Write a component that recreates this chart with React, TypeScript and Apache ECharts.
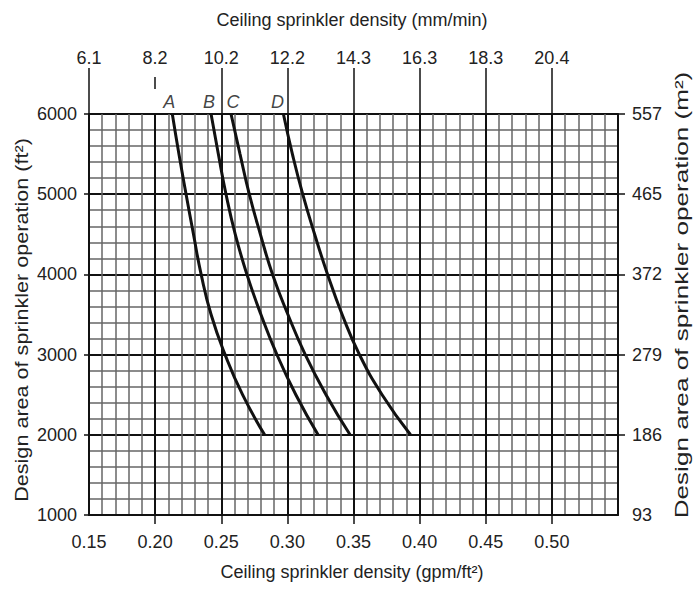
import React, { useEffect, useRef } from 'react';
import * as echarts from 'echarts';

// Design area (ft²) sampled along each curve, top to bottom
const areaSteps = [6000, 5500, 5000, 4500, 4000, 3500, 3000, 2500, 2000];
// Ceiling sprinkler density (gpm/ft²) for each curve at those areas
const curveA = [0.213, 0.218, 0.2234, 0.229, 0.2348, 0.2423, 0.2529, 0.2661, 0.2828];
const curveB = [0.2423, 0.2478, 0.2536, 0.2606, 0.2694, 0.28, 0.2921, 0.3064, 0.3232];
const curveC = [0.2574, 0.2642, 0.2712, 0.2796, 0.2888, 0.3004, 0.3135, 0.3292, 0.3474];
const curveD = [0.297, 0.3038, 0.3116, 0.3206, 0.3304, 0.3414, 0.3545, 0.3716, 0.3931];
const curveNames = ['A', 'B', 'C', 'D'];

// Axis ticks / labels
const densityTicks = [0.15, 0.2, 0.25, 0.3, 0.35, 0.4, 0.45, 0.5];
const densityLabels = ['0.15', '0.20', '0.25', '0.30', '0.35', '0.40', '0.45', '0.50'];
const mmPerMinLabels = ['6.1', '8.2', '10.2', '12.2', '14.3', '16.3', '18.3', '20.4'];
const areaTicks = [1000, 2000, 3000, 4000, 5000, 6000];
const areaFt2Labels = ['1000', '2000', '3000', '4000', '5000', '6000'];
const areaM2Labels = ['93', '186', '279', '372', '465', '557'];

const FONT = '"Liberation Sans", Arial, sans-serif';
const TEXT = '#222';

function lookup(ticks: number[], labels: string[], v: number): string {
  const i = ticks.findIndex((t) => Math.abs(t - v) < 1e-6);
  return i >= 0 ? labels[i] : '';
}

function verticalTitle(text: string, x: number, y: number, stretch: number) {
  return {
    type: 'group',
    x,
    y,
    rotation: Math.PI / 2,
    children: [
      {
        type: 'text',
        x: 0,
        y: 0,
        scaleX: stretch,
        scaleY: 1,
        style: {
          text,
          font: `18px ${FONT}`,
          fill: TEXT,
          align: 'center',
          verticalAlign: 'middle',
        },
      },
    ],
  };
}

export default function App() {
  const ref = useRef<HTMLDivElement>(null);

  useEffect(() => {
    const chart = echarts.init(ref.current!, null, { renderer: 'svg' });
    const curves = [curveA, curveB, curveC, curveD];
    const labelOffsets = [[-3, 0], [-2, 0], [2, 0], [-6, 0]];

    const lineSeries = curves.map((c, k) => ({
      type: 'line',
      name: curveNames[k],
      xAxisIndex: 0,
      yAxisIndex: 0,
      smooth: 0.5,
      symbol: 'none',
      lineStyle: { color: '#111', width: 3 },
      data: c.map((d, i) => [d, areaSteps[i]]),
      z: 5,
    }));

    const labelSeries = {
      type: 'scatter',
      xAxisIndex: 0,
      yAxisIndex: 0,
      symbolSize: 1,
      itemStyle: { color: 'rgba(0,0,0,0)' },
      label: {
        show: true,
        formatter: '{b}',
        position: 'top',
        distance: 3,
        fontStyle: 'italic',
        fontSize: 18,
        fontFamily: FONT,
        color: '#111',
      },
      data: curves.map((c, k) => ({
        name: curveNames[k],
        value: [c[0], areaSteps[0]],
        label: { offset: labelOffsets[k] },
      })),
      z: 6,
    };

    const option: any = {
      animation: false,
      backgroundColor: '#fff',
      grid: {
        left: 89,
        right: 75,
        top: 114,
        bottom: 76,
        containLabel: false,
        outerBoundsMode: 'none',
      },
      xAxis: [
        {
          type: 'value',
          position: 'bottom',
          min: 0.15,
          max: 0.55,
          interval: 0.05,
          axisLine: { show: true, onZero: false, lineStyle: { color: '#111', width: 2 } },
          axisTick: {
            show: true,
            length: 9,
            customValues: densityTicks.slice(1),
            lineStyle: { color: '#111', width: 1.5 },
          },
          minorTick: { show: false, splitNumber: 5 },
          axisLabel: {
            customValues: densityTicks,
            formatter: (v: number) => lookup(densityTicks, densityLabels, v),
            margin: 18,
            fontSize: 18,
            fontFamily: FONT,
            color: TEXT,
          },
          splitLine: { show: true, lineStyle: { color: '#111', width: 2 } },
          minorSplitLine: { show: true, lineStyle: { color: '#666', width: 1.5 } },
        },
        {
          type: 'value',
          position: 'top',
          offset: 0,
          min: 0.15,
          max: 0.55,
          interval: 0.05,
          axisLine: { show: false },
          axisTick: {
            show: true,
            length: 46,
            customValues: densityTicks.filter((_, i) => i !== 1),
            lineStyle: { color: '#111', width: 1.5 },
          },
          axisLabel: {
            customValues: densityTicks,
            formatter: (v: number) => lookup(densityTicks, mmPerMinLabels, v),
            margin: 47,
            fontSize: 18,
            fontFamily: FONT,
            color: TEXT,
          },
          splitLine: { show: false },
        },
        {
          type: 'value',
          position: 'top',
          offset: 25,
          min: 0.15,
          max: 0.55,
          interval: 0.05,
          axisLine: { show: false },
          axisTick: {
            show: true,
            length: 12,
            customValues: [densityTicks[1]],
            lineStyle: { color: '#111', width: 1.5 },
          },
          axisLabel: { show: false },
          splitLine: { show: false },
        },
      ],
      yAxis: [
        {
          type: 'value',
          position: 'left',
          min: 1000,
          max: 6000,
          interval: 1000,
          axisLine: { show: true, onZero: false, lineStyle: { color: '#111', width: 2 } },
          axisTick: { show: true, length: 5, lineStyle: { color: '#111', width: 1.5 } },
          minorTick: { show: false, splitNumber: 5 },
          axisLabel: {
            customValues: areaTicks,
            formatter: (v: number) => lookup(areaTicks, areaFt2Labels, v),
            margin: 12,
            fontSize: 18,
            fontFamily: FONT,
            color: TEXT,
          },
          splitLine: { show: true, lineStyle: { color: '#111', width: 2 } },
          minorSplitLine: { show: true, lineStyle: { color: '#666', width: 1.5 } },
        },
        {
          type: 'value',
          position: 'right',
          min: 1000,
          max: 6000,
          interval: 1000,
          axisLine: { show: true, onZero: false, lineStyle: { color: '#111', width: 2 } },
          axisTick: {
            show: true,
            length: 7,
            customValues: areaTicks.slice(1),
            lineStyle: { color: '#111', width: 1.5 },
          },
          axisLabel: {
            customValues: areaTicks,
            formatter: (v: number) => lookup(areaTicks, areaM2Labels, v),
            margin: 14,
            fontSize: 18,
            fontFamily: FONT,
            color: TEXT,
          },
          splitLine: { show: false },
        },
      ],
      graphic: [
        {
          type: 'text',
          x: 352,
          y: 20,
          style: {
            text: 'Ceiling sprinkler density (mm/min)',
            font: `18px ${FONT}`,
            fill: TEXT,
            align: 'center',
            verticalAlign: 'middle',
          },
        },
        {
          type: 'text',
          x: 352,
          y: 572,
          style: {
            text: 'Ceiling sprinkler density (gpm/ft²)',
            font: `18px ${FONT}`,
            fill: TEXT,
            align: 'center',
            verticalAlign: 'middle',
          },
        },
        verticalTitle('Design area of sprinkler operation (ft²)', 22, 320, 1.2),
        verticalTitle('Design area of sprinkler operation (m²)', 682, 295, 1.45),
      ],
      series: [...lineSeries, labelSeries],
    };

    chart.setOption(option);
    return () => chart.dispose();
  }, []);

  return (
    <div
      ref={ref}
      style={{ position: 'absolute', left: 0, top: 0, width: 693, height: 591 }}
    />
  );
}
